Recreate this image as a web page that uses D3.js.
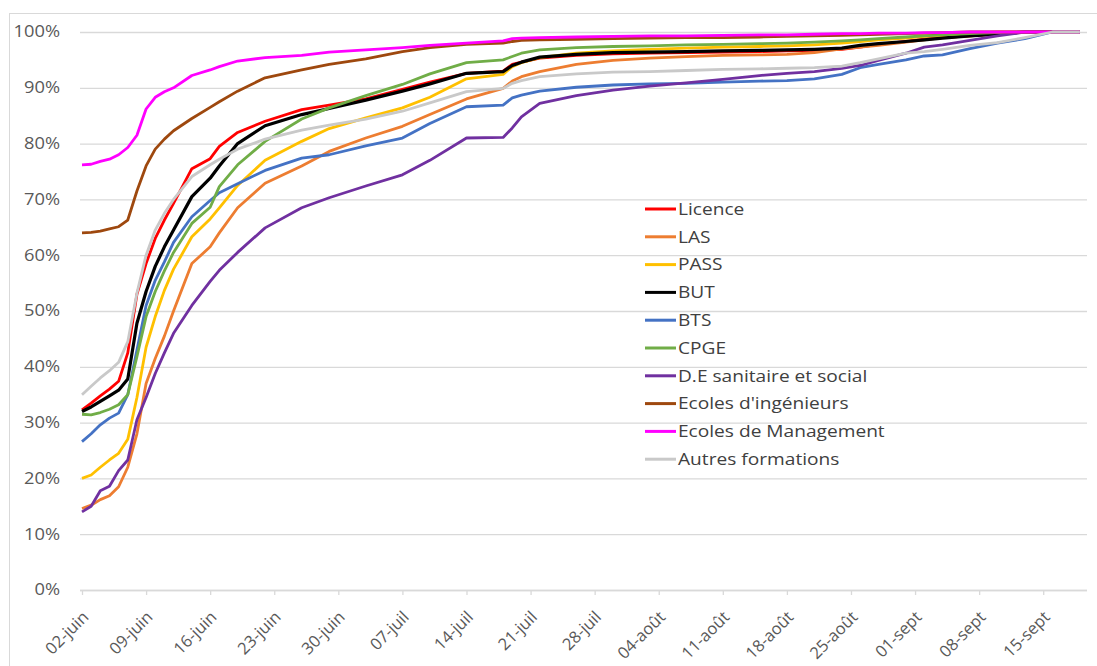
<!DOCTYPE html>
<html><head><meta charset="utf-8">
<script src="https://cdn.jsdelivr.net/npm/d3@7"></script>
<style>
body{margin:0;background:#fff}
svg{display:block}
text{font-family:"Open Sans",sans-serif}
</style>
</head><body>
<svg id="chart" width="1097" height="666"></svg>
<script>
// ---------- DATA ----------
const dates = ["2023-06-02","2023-06-03","2023-06-04","2023-06-05","2023-06-06","2023-06-07","2023-06-08","2023-06-09","2023-06-10","2023-06-11","2023-06-12","2023-06-14","2023-06-16","2023-06-17","2023-06-19","2023-06-22","2023-06-26","2023-06-29","2023-07-03","2023-07-07","2023-07-10","2023-07-14","2023-07-18","2023-07-19","2023-07-20","2023-07-22","2023-07-26","2023-07-30","2023-08-03","2023-08-07","2023-08-11","2023-08-15","2023-08-18","2023-08-21","2023-08-24","2023-08-26","2023-08-28","2023-08-31","2023-09-02","2023-09-04","2023-09-07","2023-09-10","2023-09-13","2023-09-16","2023-09-19"];

const tickDates = ["2023-06-02","2023-06-09","2023-06-16","2023-06-23","2023-06-30","2023-07-07","2023-07-14","2023-07-21","2023-07-28","2023-08-04","2023-08-11","2023-08-18","2023-08-25","2023-09-01","2023-09-08","2023-09-15"];
const tickLabels = ["02-juin","09-juin","16-juin","23-juin","30-juin","07-juil","14-juil","21-juil","28-juil","04-août","11-août","18-août","25-août","01-sept","08-sept","15-sept"];
const yTicks = [0,10,20,30,40,50,60,70,80,90,100];

const seriesNames = ["Licence","LAS","PASS","BUT","BTS","CPGE","D.E sanitaire et social","Ecoles d'ingénieurs","Ecoles de Management","Autres formations"];

const licence = [32.3,33.5,34.8,36.0,37.4,42.5,53.0,58.5,63.0,66.3,69.3,75.5,77.3,79.5,82.0,84.0,86.1,86.9,88.0,89.7,91.0,92.6,93.0,94.2,94.6,95.3,95.8,96.1,96.2,96.3,96.4,96.5,96.6,96.7,96.9,97.3,97.8,98.3,98.7,99.0,99.3,99.7,100,100,100];
const las = [14.6,15.2,16.2,16.9,18.5,22.0,28.0,37.0,41.5,45.5,50.0,58.5,61.5,64.0,68.5,72.9,76.0,78.6,81.0,83.1,85.2,88.0,89.9,91.2,92.0,92.9,94.2,94.9,95.3,95.6,95.8,95.9,96.0,96.3,97.0,97.3,97.6,98.2,98.6,99.0,99.3,99.6,100,100,100];
const pass = [20.0,20.6,22.0,23.3,24.5,27.0,34.5,43.5,49.0,53.7,57.5,63.3,66.5,68.5,72.5,77.0,80.4,82.7,84.6,86.4,88.3,91.6,92.4,93.8,94.5,95.4,96.2,96.6,96.9,97.1,97.3,97.4,97.5,97.7,98.0,98.3,98.6,98.9,99.2,99.4,99.7,100,100,100,100];
const but = [32.0,32.8,33.8,34.8,35.8,37.8,47.8,53.5,58.0,61.5,64.5,70.5,73.8,76.0,80.0,83.2,85.2,86.3,87.8,89.4,90.7,92.6,92.9,94.0,94.6,95.5,96.0,96.3,96.4,96.5,96.6,96.7,96.8,96.9,97.1,97.6,97.9,98.3,98.6,98.9,99.3,99.6,100,100,100];
const bts = [26.6,28.0,29.6,30.8,31.7,35.0,43.0,51.0,55.5,58.8,62.3,66.9,69.8,71.2,72.8,75.2,77.4,78.0,79.6,81.0,83.6,86.6,86.9,88.2,88.7,89.4,90.1,90.5,90.7,90.8,91.0,91.2,91.3,91.6,92.4,93.6,94.2,95.0,95.7,95.9,97.0,98.0,98.8,100,100];
const cpge = [31.5,31.4,31.8,32.4,33.2,35.0,41.8,49.0,53.5,57.2,60.5,65.7,68.6,72.3,76.2,80.4,84.4,86.4,88.6,90.6,92.5,94.5,95.0,95.6,96.2,96.8,97.2,97.4,97.5,97.7,97.8,97.9,98.0,98.2,98.4,98.6,98.8,99.1,99.3,99.5,99.7,99.9,100,100,100];
const deSanitaire = [14.0,15.0,17.8,18.6,21.4,23.3,30.5,34.5,38.8,42.5,46.0,51.0,55.3,57.3,60.5,64.9,68.5,70.3,72.4,74.4,77.0,81.0,81.1,82.8,84.8,87.2,88.6,89.6,90.3,90.9,91.5,92.2,92.6,92.9,93.5,94.0,94.9,96.2,97.3,97.7,98.5,99.3,100,100,100];
const ingenieurs = [64.0,64.1,64.3,64.7,65.1,66.3,71.5,76.0,79.0,80.8,82.3,84.5,86.5,87.5,89.4,91.8,93.2,94.2,95.2,96.5,97.2,97.8,98.0,98.3,98.5,98.6,98.7,98.8,98.9,99.0,99.0,99.1,99.2,99.3,99.4,99.5,99.6,99.7,99.8,99.9,100,100,100,100,100];
const management = [76.2,76.3,76.8,77.2,78.0,79.3,81.5,86.2,88.3,89.3,90.0,92.2,93.2,93.8,94.8,95.4,95.8,96.4,96.8,97.2,97.6,98.0,98.4,98.8,98.9,99.0,99.1,99.2,99.3,99.3,99.4,99.5,99.5,99.6,99.7,99.7,99.8,99.8,99.9,99.9,100,100,100,100,100];
const autres = [35.0,36.5,38.0,39.3,40.8,44.5,53.2,60.0,64.5,67.5,70.0,74.1,76.2,77.2,79.0,80.8,82.4,83.3,84.4,85.8,87.3,89.3,89.9,90.8,91.3,92.0,92.5,92.8,92.9,93.1,93.3,93.4,93.5,93.6,93.9,94.5,95.2,96.2,96.5,96.9,97.6,98.1,99.0,100,100];

const seriesValues = [licence,las,pass,but,bts,cpge,deSanitaire,ingenieurs,management,autres];
const seriesColors = ["#FF0000","#ED7D31","#FFC000","#000000","#4472C4","#70AD47","#7030A0","#9E480E","#FF00FF","#C9C9C9"];

// ---------- CHART ----------
const parse = d3.utcParse("%Y-%m-%d");
const svg = d3.select("#chart");
const plot = {left:82, right:1089, top:32, bottom:590};
const stretch = 1.16; // horizontal widening of the text, as in the reference

const x = d3.scaleUtc()
  .domain([parse("2023-06-02"), parse("2023-09-20")])
  .range([plot.left, plot.right]);
const y = d3.scaleLinear().domain([0,100]).range([plot.bottom, plot.top]);

// frame
svg.append("rect").attr("x",9.5).attr("y",13.5).attr("width",1100).attr("height",700)
  .attr("fill","none").attr("stroke","#d9d9d9").attr("stroke-width",1);

// gridlines + y labels
const yAxis = d3.axisLeft(y).tickValues(yTicks).tickSize(-(plot.right-plot.left)).tickFormat(d=>d+"%");
const gy = svg.append("g").attr("transform",`translate(${plot.left-2},0)`).call(yAxis);
gy.select(".domain").remove();
gy.selectAll(".tick line").attr("stroke","#d9d9d9").attr("stroke-width",1.3);
gy.selectAll(".tick text")
  .attr("x",-20/1.18).attr("transform","scale(1.18,1)")
  .attr("fill","#595959").style("font-size","15.5px");

// x axis
const tickMap = new Map(tickDates.map((d,i)=>[+parse(d), tickLabels[i]]));
const xAxis = d3.axisBottom(x).tickValues(tickDates.map(parse)).tickSize(5).tickFormat(d=>tickMap.get(+d));
const gx = svg.append("g").attr("transform",`translate(0,${plot.bottom})`).call(xAxis);
gx.select(".domain").attr("d",`M${plot.left-2},0.5H${plot.right-2}`).attr("stroke","#d9d9d9").attr("stroke-width",1.3);
gx.selectAll(".tick line").attr("stroke","#d9d9d9").attr("stroke-width",1.3);
gx.selectAll(".tick text")
  .attr("fill","#595959").style("font-size","16.5px")
  .attr("text-anchor","end")
  .attr("transform","translate(3,24) rotate(-45)")
  .attr("x",0).attr("y",0).attr("dy","0.35em");

// lines
const line = d3.line().x((d,i)=>x(parse(dates[i]))).y(d=>y(d));
seriesValues.forEach((vals,k)=>{
  svg.append("path").datum(vals)
    .attr("fill","none").attr("stroke",seriesColors[k])
    .attr("stroke-width", k===3 ? 3.2 : 2.8)
    .attr("stroke-linejoin","round")
    .attr("d",line);
});

// legend
const lg = svg.append("g").attr("transform","translate(645,209)");
seriesNames.forEach((name,k)=>{
  const row = lg.append("g").attr("transform",`translate(0,${k*27.8})`);
  row.append("line").attr("x1",0).attr("x2",31).attr("y1",0).attr("y2",0)
    .attr("stroke",seriesColors[k]).attr("stroke-width",3);
  row.append("text").attr("x",33/stretch).attr("y",0).attr("dy","0.35em")
    .attr("transform",`scale(${stretch},1)`)
    .attr("fill","#404040").style("font-size","16.5px").text(name);
});
</script>
</body></html>
